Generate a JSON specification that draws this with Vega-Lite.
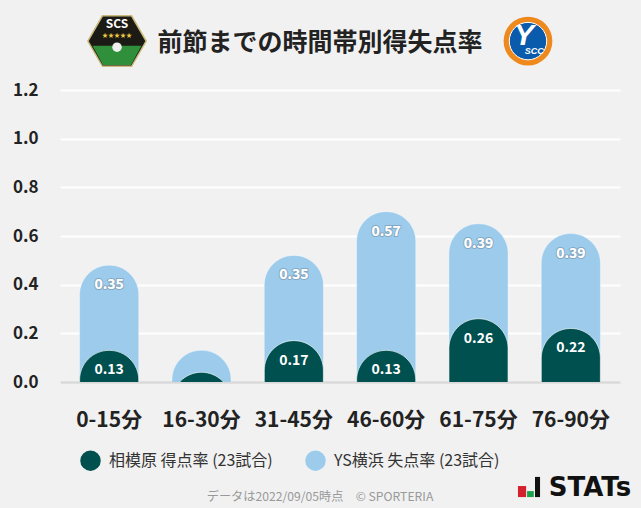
{"$schema":"https://vega.github.io/schema/vega-lite/v6.json","width":560,"height":292,"autosize":{"type":"none"},"padding":{"left":60,"top":90,"right":21,"bottom":126},"background":"#f1f1f1","title":{"text":"前節までの時間帯別得失点率","font":"Noto Sans CJK JP","fontWeight":"bold","fontSize":25,"color":"#222222","anchor":"middle","dx":-20,"offset":-43},"config":{"font":"Noto Sans CJK JP","view":{"stroke":null}},"datasets":{"rates":[{"period":"0-15分","goal":0.13,"conceded":0.35,"top":0.48,"goalLabel":"0.13","concededLabel":"0.35"},{"period":"16-30分","goal":0.04,"conceded":0.09,"top":0.13},{"period":"31-45分","goal":0.17,"conceded":0.35,"top":0.52,"goalLabel":"0.17","concededLabel":"0.35"},{"period":"46-60分","goal":0.13,"conceded":0.57,"top":0.7,"goalLabel":"0.13","concededLabel":"0.57"},{"period":"61-75分","goal":0.26,"conceded":0.39,"top":0.65,"goalLabel":"0.26","concededLabel":"0.39"},{"period":"76-90分","goal":0.22,"conceded":0.39,"top":0.61,"goalLabel":"0.22","concededLabel":"0.39"}]},"resolve":{"scale":{"x":"independent"}},"layer":[{"data":{"name":"rates"},"encoding":{"x":{"field":"period","type":"nominal","sort":null,"scale":{"paddingInner":0.36,"paddingOuter":0.2125},"axis":{"title":null,"labelAngle":0,"labelFontSize":21,"labelFontWeight":"bold","labelColor":"#222222","labelPadding":27,"ticks":false,"domainColor":"#d9d9d9","domainWidth":2.5,"grid":false}}},"layer":[{"mark":{"type":"bar","clip":true,"cornerRadiusTopLeft":29.5,"cornerRadiusTopRight":29.5,"stroke":"#ffffff","strokeWidth":0.5,"strokeOpacity":0.7},"encoding":{"y":{"field":"top","type":"quantitative","scale":{"domain":[0,1.2],"nice":false},"axis":{"title":null,"values":[0,0.2,0.4,0.6,0.8,1,1.2],"format":".1f","labelFontSize":17,"labelFontWeight":"bold","labelColor":"#222222","labelPadding":22,"ticks":false,"domain":false,"grid":true,"gridColor":"#ffffff","gridWidth":2}},"y2":{"datum":-0.3},"color":{"datum":"YS横浜 失点率 (23試合)","type":"nominal","scale":{"domain":["相模原 得点率 (23試合)","YS横浜 失点率 (23試合)"],"range":["#005050","#9ccbec"]},"legend":{"title":null,"orient":"none","legendX":20,"legendY":360,"direction":"horizontal","columns":2,"columnPadding":32,"symbolType":"circle","symbolSize":420,"symbolStrokeWidth":0,"labelFontSize":16,"labelLimit":300,"labelColor":"#333333","labelOffset":8,"symbolOpacity":1}}}},{"mark":{"type":"bar","clip":true,"cornerRadiusTopLeft":29.5,"cornerRadiusTopRight":29.5,"stroke":"#ffffff","strokeWidth":0.8,"strokeOpacity":0.8},"encoding":{"y":{"field":"goal","type":"quantitative","scale":{"domain":[0,1.2],"nice":false}},"y2":{"datum":-0.3},"color":{"datum":"相模原 得点率 (23試合)","type":"nominal"}}},{"transform":[{"filter":"isValid(datum.concededLabel)"}],"mark":{"type":"text","dy":20,"fontSize":14,"fontWeight":"bold","color":"#ffffff","stroke":"#556677","strokeWidth":2,"strokeOpacity":0.35},"encoding":{"y":{"field":"top","type":"quantitative","scale":{"domain":[0,1.2],"nice":false}},"text":{"field":"concededLabel"}}},{"transform":[{"filter":"isValid(datum.concededLabel)"}],"mark":{"type":"text","dy":20,"fontSize":14,"fontWeight":"bold","color":"#ffffff"},"encoding":{"y":{"field":"top","type":"quantitative","scale":{"domain":[0,1.2],"nice":false}},"text":{"field":"concededLabel"}}},{"transform":[{"filter":"isValid(datum.goalLabel)"}],"mark":{"type":"text","dy":20,"fontSize":14,"fontWeight":"bold","color":"#ffffff"},"encoding":{"y":{"field":"goal","type":"quantitative","scale":{"domain":[0,1.2],"nice":false}},"text":{"field":"goalLabel"}}}]},{"data":{"values":[{"note":"decor"}]},"encoding":{"x":{"type":"quantitative","scale":{"domain":[0,1]},"axis":null}},"layer":[{"mark":{"type":"point","filled":true,"clip":false,"shape":"M-0.5,0 L-0.25,-0.433 L0.25,-0.433 L0.5,0 L0.25,0.433 L-0.25,0.433 Z","color":"#1c1a14","stroke":"#c9b97c","strokeWidth":1.5,"size":13600,"opacity":1},"encoding":{"x":{"datum":0.1018},"y":{"datum":1.401,"scale":{"domain":[0,1.2],"nice":false}}}},{"mark":{"type":"point","filled":true,"clip":false,"shape":"M-0.42,0.08 L0.42,0.08 L0.24,0.41 L-0.24,0.41 Z","color":"#2f8f3a","size":13600,"opacity":1},"encoding":{"x":{"datum":0.1018},"y":{"datum":1.401,"scale":{"domain":[0,1.2],"nice":false}}}},{"mark":{"type":"text","clip":false,"text":"SCS","fontSize":12,"fontWeight":"bold","color":"#ffffff"},"encoding":{"x":{"datum":0.1018},"y":{"datum":1.47,"scale":{"domain":[0,1.2],"nice":false}}}},{"mark":{"type":"text","clip":false,"text":"★★★★★","fontSize":6,"color":"#e8c840"},"encoding":{"x":{"datum":0.1018},"y":{"datum":1.424,"scale":{"domain":[0,1.2],"nice":false}}}},{"mark":{"type":"point","filled":true,"clip":false,"shape":"circle","color":"#f0f0f0","size":90,"opacity":1},"encoding":{"x":{"datum":0.1018},"y":{"datum":1.376,"scale":{"domain":[0,1.2],"nice":false}}}},{"mark":{"type":"point","filled":true,"clip":false,"shape":"circle","color":"#ee8a1d","size":2380,"opacity":1},"encoding":{"x":{"datum":0.8357},"y":{"datum":1.401,"scale":{"domain":[0,1.2],"nice":false}}}},{"mark":{"type":"point","filled":true,"clip":false,"shape":"circle","color":"#0a5bab","stroke":"#ffffff","strokeWidth":1,"size":1400,"opacity":1},"encoding":{"x":{"datum":0.8357},"y":{"datum":1.401,"scale":{"domain":[0,1.2],"nice":false}}}},{"mark":{"type":"text","clip":false,"text":"Y","fontSize":30,"fontWeight":"bold","fontStyle":"italic","font":"Liberation Sans","color":"#ffffff"},"encoding":{"x":{"datum":0.8285},"y":{"datum":1.42,"scale":{"domain":[0,1.2],"nice":false}}}},{"mark":{"type":"text","clip":false,"text":"SCC","fontSize":9,"fontStyle":"italic","fontWeight":"bold","font":"Liberation Sans","color":"#ffffff"},"encoding":{"x":{"datum":0.847},"y":{"datum":1.36,"scale":{"domain":[0,1.2],"nice":false}}}},{"mark":{"type":"text","clip":false,"text":"データは2022/09/05時点　© SPORTERIA","fontSize":12.2,"color":"#999999"},"encoding":{"x":{"datum":0.4643},"y":{"datum":-0.4726,"scale":{"domain":[0,1.2],"nice":false}}}},{"mark":{"type":"text","clip":false,"text":"STATs","font":"DejaVu Sans","fontSize":26,"fontWeight":"bold","color":"#111111"},"encoding":{"x":{"datum":0.9464},"y":{"datum":-0.4356,"scale":{"domain":[0,1.2],"nice":false}}}},{"mark":{"type":"point","filled":true,"clip":false,"shape":"M-0.46,-0.04 H-0.12 V0.42 H-0.46 Z","color":"#d3212d","size":2304,"opacity":1},"encoding":{"x":{"datum":0.8375},"y":{"datum":-0.4315,"scale":{"domain":[0,1.2],"nice":false}}}},{"mark":{"type":"point","filled":true,"clip":false,"shape":"M-0.08,0.17 H0.2 V0.42 H-0.08 Z","color":"#1aa34a","size":2304,"opacity":1},"encoding":{"x":{"datum":0.8375},"y":{"datum":-0.4315,"scale":{"domain":[0,1.2],"nice":false}}}},{"mark":{"type":"point","filled":true,"clip":false,"shape":"M0.25,-0.42 H0.46 V0.42 H0.25 Z","color":"#111111","size":2304,"opacity":1},"encoding":{"x":{"datum":0.8375},"y":{"datum":-0.4315,"scale":{"domain":[0,1.2],"nice":false}}}}]}]}
